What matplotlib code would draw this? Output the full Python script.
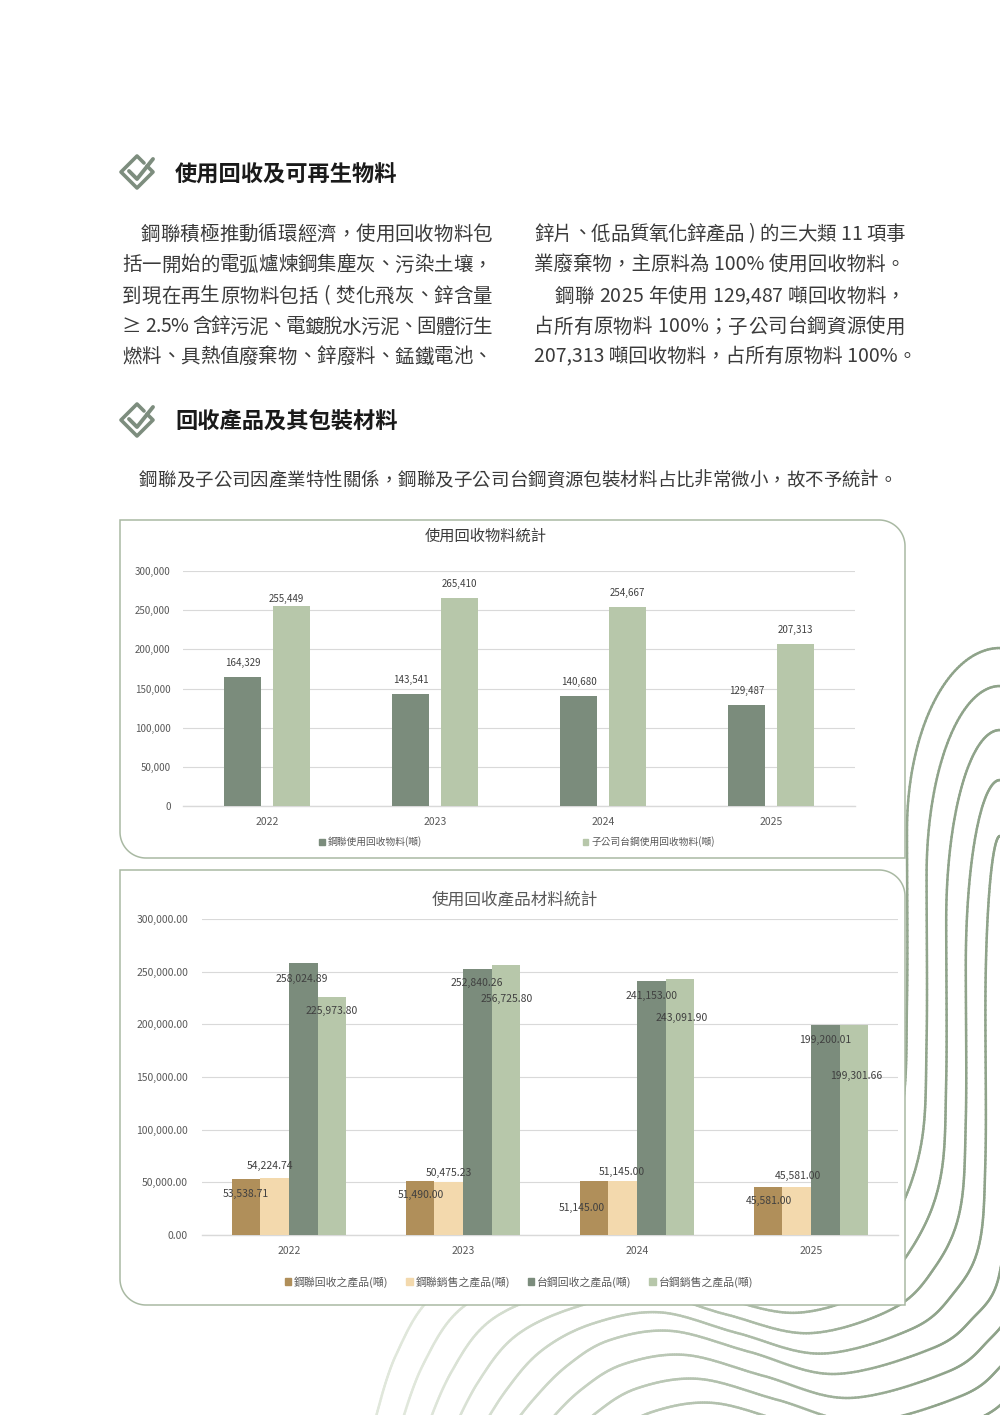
import numpy as np
import matplotlib
matplotlib.use("Agg")
import matplotlib.pyplot as plt
from matplotlib.collections import LineCollection
from matplotlib.path import Path
from matplotlib.patches import PathPatch, Patch
from matplotlib.colors import to_rgb

plt.rcParams['font.family'] = ['Noto Sans CJK TC', 'DejaVu Sans']
plt.rcParams['axes.unicode_minus'] = False

# ==============================================================================
# Data
# ==============================================================================
years = ['2022', '2023', '2024', '2025']

# chart 1: 使用回收物料統計 (噸)
steel_recycled = [164329, 143541, 140680, 129487]
tsr_recycled = [255449, 265410, 254667, 207313]
chart1_series = ['鋼聯使用回收物料(噸)', '子公司台鋼使用回收物料(噸)']

# chart 2: 使用回收產品材料統計 (噸)
steel_prod_recycled = [53538.71, 51490.00, 51145.00, 45581.00]
steel_prod_sold = [54224.74, 50475.23, 51145.00, 45581.00]
tsr_prod_recycled = [258024.89, 252840.26, 241153.00, 199200.01]
tsr_prod_sold = [225973.80, 256725.80, 243091.90, 199301.66]
chart2_series = ['鋼聯回收之產品(噸)', '鋼聯銷售之產品(噸)', '台鋼回收之產品(噸)', '台鋼銷售之產品(噸)']

heading1 = '使用回收及可再生物料'
heading2 = '回收產品及其包裝材料'
left_lines = ['鋼聯積極推動循環經濟，使用回收物料包',
              '括一開始的電弧爐煉鋼集塵灰、污染土壤，',
              '到現在再生原物料包括 ( 焚化飛灰、鋅含量',
              '≥ 2.5% 含鋅污泥、電鍍脫水污泥、固體衍生',
              '燃料、具熱值廢棄物、鋅廢料、錳鐵電池、']
right_lines = ['鋅片、低品質氧化鋅產品 ) 的三大類 11 項事',
               '業廢棄物，主原料為 100% 使用回收物料。',
               '鋼聯 2025 年使用 129,487 噸回收物料，',
               '占所有原物料 100%；子公司台鋼資源使用',
               '207,313 噸回收物料，占所有原物料 100%。']
packaging_note = '鋼聯及子公司因產業特性關係，鋼聯及子公司台鋼資源包裝材料占比非常微小，故不予統計。'

# ==============================================================================
# Styles
# ==============================================================================
DARK = '#7b8c7c'
LIGHT = '#b7c7aa'
BROWN = '#b08f5a'
CREAM = '#f3d9ad'
BOX_EDGE = '#a9b9a3'
GRID = '#d9d9d9'
TICK = '#595959'
LABEL = '#404040'
ICON = '#7d8d7e'

W, H = 1000, 1415
fig = plt.figure(figsize=(W / 100, H / 100), dpi=100)
bg = fig.add_axes([0, 0, 1, 1])
bg.set_xlim(0, W)
bg.set_ylim(H, 0)
bg.axis('off')
renderer = fig.canvas.get_renderer()


def cr_spline(pts, n=30):
    pts = np.asarray(pts, float)
    P = np.vstack([2 * pts[0] - pts[1], pts, 2 * pts[-1] - pts[-2]])
    t = np.linspace(0, 1, n, endpoint=False)[:, None]
    out = []
    for i in range(1, len(P) - 2):
        p0, p1, p2, p3 = P[i - 1], P[i], P[i + 1], P[i + 2]
        out.append(0.5 * (2 * p1 + (-p0 + p2) * t + (2 * p0 - 5 * p1 + 4 * p2 - p3) * t ** 2
                          + (-p0 + 3 * p1 - 3 * p2 + p3) * t ** 3))
    out.append(P[-2][None, :])
    return np.vstack(out)


# ---- decorative wavy lines (background) ----
bottom0 = np.array([(907, 1000), (902, 1110), (875, 1195), (832, 1250), (770, 1272), (690, 1258),
                    (615, 1238), (530, 1256), (440, 1290), (396, 1355), (368, 1445)], float)
bottom5 = np.array([(1005, 1200), (998, 1280), (973, 1318), (933, 1348), (835, 1374), (750, 1352),
                    (672, 1331), (610, 1340), (568, 1365), (533, 1400), (498, 1445)], float)
segs, cols = [], []
c_dark, c_light = np.array(to_rgb('#8fa38a')), np.array(to_rgb('#e0e7db'))
for k in range(0, 11):
    if k <= 5:
        pts_b = bottom0 + (bottom5 - bottom0) * k / 5.0
    else:
        pts_b = bottom5 + np.array([14.0, 24.0]) * (k - 5)
    xk = pts_b[0, 0]
    parts = []
    if k < 5:
        yt = 648 + 35 * k + 3 * k * k
        yv = 830 + 45 * k
        a, b = 1000 - xk, yv - yt
        parts.append(np.array([(1100, yt), (1000, yt)]))
        th = np.linspace(0, np.pi / 2, 60)
        parts.append(np.column_stack([1000 - a * np.sin(th), yv - b * np.cos(th)]))
    else:
        yv = pts_b[0, 1] - 150
        parts.append(np.array([(xk, 500), (xk, yv)]))
    parts.append(cr_spline(np.vstack([[xk, yv], pts_b])))
    line = np.vstack(parts)
    s = np.stack([line[:-1], line[1:]], axis=1)
    xm = s[:, :, 0].mean(axis=1)
    tt = np.clip((xm - 420) / 520, 0, 1)[:, None]
    segs.extend(s)
    cols.extend(c_light + (c_dark - c_light) * tt)
bg.add_collection(LineCollection(segs, colors=cols, linewidths=1.8, capstyle='round', zorder=1))


def leaf_box(x0, y0, x1, y1, r):
    pts = [(x0, y0), (x1 - r, y0)]
    a = np.linspace(-np.pi / 2, 0, 30)
    pts += list(zip(x1 - r + r * np.cos(a), y0 + r + r * np.sin(a)))
    pts += [(x1, y1), (x0 + r, y1)]
    a = np.linspace(np.pi / 2, np.pi, 30)
    pts += list(zip(x0 + r + r * np.cos(a), y1 - r + r * np.sin(a)))
    pts.append((x0, y0))
    return PathPatch(Path(pts, closed=True), facecolor='white', edgecolor=BOX_EDGE, lw=1.1, zorder=2)


bg.add_patch(leaf_box(120, 520, 905, 858, 26))
bg.add_patch(leaf_box(120, 870, 905, 1305, 26))


def icon(cx, cy):
    s = 16
    bg.plot([cx + 7, cx, cx - s, cx, cx + s, cx + 10],
            [cy - s + 7, cy - s, cy, cy + s, cy, cy - 6],
            color=ICON, lw=2.6, solid_joinstyle='round', solid_capstyle='round', zorder=3)
    bg.plot([cx - 8, cx, cx + 16], [cy - 1, cy + 7, cy - 13],
            color=ICON, lw=2.8, solid_joinstyle='round', solid_capstyle='round', zorder=3)


def text_line(x0, y, s, size, target=None, color='#3a3a3a', **kw):
    if target is None:
        bg.text(x0, y, s, fontsize=size, color=color, ha='left', va='center', **kw)
        return
    widths = []
    for ch in s:
        if ch == ' ':
            widths.append(size * 100 / 72 * 0.28)
            continue
        t = bg.text(0, 0, ch, fontsize=size, **kw)
        widths.append(t.get_window_extent(renderer).width)
        t.remove()
    gap = (target - sum(widths)) / max(len(s) - 1, 1)
    x = x0
    for ch, w in zip(s, widths):
        if ch != ' ':
            bg.text(x, y, ch, fontsize=size, color=color, ha='left', va='center', **kw)
        x += w + gap


# ---- headings and body text ----
icon(137, 172)
bg.text(175, 175, heading1, fontsize=16, fontweight='bold', color='#1a1a1a', ha='left', va='center')
icon(137, 420)
bg.text(175, 421, heading2, fontsize=16, fontweight='bold', color='#1a1a1a', ha='left', va='center')

line_y = [234, 265, 296, 327, 357]
right_ends = [905, None, 905, 905, None]
for i, s in enumerate(left_lines):
    x0 = 141 if i == 0 else 122
    text_line(x0, line_y[i], s, 14, target=492 - x0)
for i, s in enumerate(right_lines):
    x0 = 555 if i == 2 else 534
    tgt = None if right_ends[i] is None else right_ends[i] - x0
    text_line(x0, line_y[i], s, 14, target=tgt)
text_line(139, 481, packaging_note, 13.3, target=897 - 139)


# ==============================================================================
# Chart helpers
# ==============================================================================
def px_axes(left, right, top, bottom):
    return fig.add_axes([left / W, 1 - bottom / H, (right - left) / W, (bottom - top) / H])


def style_axes(ax, ymax, fmt, ysize, ypad, xsize):
    ax.set_facecolor('none')
    ax.set_xlim(-0.5, 3.5)
    ax.set_ylim(0, ymax)
    ax.set_yticks(np.arange(0, ymax + 1, 50000))
    ax.set_yticklabels([fmt.format(v) for v in np.arange(0, ymax + 1, 50000)])
    ax.grid(True, axis='y', color=GRID, lw=0.8)
    ax.set_axisbelow(True)
    for sp in ['top', 'right', 'left']:
        ax.spines[sp].set_visible(False)
    ax.spines['bottom'].set_color(GRID)
    ax.spines['bottom'].set_linewidth(1.0)
    ax.tick_params(axis='y', length=0, pad=ypad, labelsize=ysize, labelcolor=TICK)
    ax.tick_params(axis='x', length=0, pad=8, labelsize=xsize, labelcolor=TICK)


x = np.arange(len(years))

# ==============================================================================
# Chart 1
# ==============================================================================
ax1 = px_axes(183, 855, 571, 806)
style_axes(ax1, 300000, '{:,.0f}', 7, 9, 7.5)
ax1.set_xticks(x)
ax1.set_xticklabels(years)
w1, off1 = 0.22, 0.143
ax1.bar(x - off1, steel_recycled, width=w1, color=DARK, zorder=3)
ax1.bar(x + off1, tsr_recycled, width=w1, color=LIGHT, zorder=3)
c1_offsets = [[(0, 14), (0, 14), (0, 14), (0, 14)],
              [(-5, 7), (0, 14), (0, 14), (0, 14)]]
for si, (vals, xs) in enumerate([(steel_recycled, x - off1), (tsr_recycled, x + off1)]):
    for i, v in enumerate(vals):
        dx, dy = c1_offsets[si][i]
        ax1.annotate(f'{v:,}', (xs[i], v), xytext=(dx * 0.72, dy * 0.72), textcoords='offset points',
                     ha='center', va='center', fontsize=7, color=LABEL)
bg.text(486, 536, '使用回收物料統計', fontsize=11, color='#3a3a3a', ha='center', va='center', zorder=3)
fig.legend([Patch(color=DARK), Patch(color=LIGHT)], chart1_series, loc='center',
           bbox_to_anchor=(517 / W, 1 - 842 / H), ncol=2, frameon=False, fontsize=7,
           labelcolor=TICK, handlelength=0.6, handleheight=0.6, handletextpad=0.3, columnspacing=16.5)

# ==============================================================================
# Chart 2
# ==============================================================================
ax2 = px_axes(202, 898, 919, 1235)
style_axes(ax2, 300000, '{:,.2f}', 7.5, 10, 7.5)
ax2.set_xticks(x)
ax2.set_xticklabels(years)
w2 = 0.164
series2 = [steel_prod_recycled, steel_prod_sold, tsr_prod_recycled, tsr_prod_sold]
colors2 = [BROWN, CREAM, DARK, LIGHT]
c2_offsets = [[(0, -15), (1, -14), (-12, -27), (1, -14)],
              [(-5, 12), (0, 9), (-1, 9), (1, 11)],
              [(-1, -16), (0, -14), (0, -15), (0, -15)],
              [(0, -14), (1, -34), (2, -39), (2, -51)]]
for si, (vals, col) in enumerate(zip(series2, colors2)):
    ax2.bar(x + (si - 1.5) * w2, vals, width=w2, color=col, zorder=3)
for si, vals in enumerate(series2):
    xs = x + (si - 1.5) * w2
    for i, v in enumerate(vals):
        dx, dy = c2_offsets[si][i]
        ax2.annotate(f'{v:,.2f}', (xs[i], v), xytext=(dx * 0.72, dy * 0.72), textcoords='offset points',
                     ha='center', va='center', fontsize=7.5, color=LABEL, zorder=5)
bg.text(515, 901, '使用回收產品材料統計', fontsize=12, color=TICK, ha='center', va='center', zorder=3)
fig.legend([Patch(color=c) for c in colors2], chart2_series, loc='center',
           bbox_to_anchor=(519 / W, 1 - 1282 / H), ncol=4, frameon=False, fontsize=7.8,
           labelcolor=TICK, handlelength=0.6, handleheight=0.6, handletextpad=0.3, columnspacing=1.6)

fig.savefig('out.png', dpi=100)
